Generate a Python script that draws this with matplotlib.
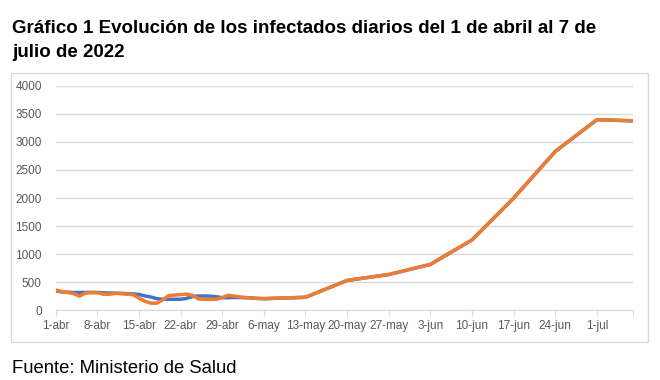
import numpy as np
import matplotlib
matplotlib.use('Agg')
import matplotlib.pyplot as plt
from matplotlib.patches import Rectangle

plt.rcParams['font.family'] = ['Liberation Sans', 'DejaVu Sans']

# days counted from 1-abr (day 0); daily in April, then weekly points
days_daily = list(range(0, 36))
blue_daily = [350, 330, 325, 320, 320, 322, 322, 320, 315, 310, 308, 305,
              300, 295, 285, 260, 240, 210, 200, 200, 200, 200, 215, 250,
              258, 258, 255, 245, 228, 228, 230, 230, 228, 222, 215, 210]
orange_daily = [365, 335, 320, 300, 255, 310, 318, 318, 290, 288, 305, 300,
                292, 282, 220, 165, 130, 130, 190, 265, 275, 282, 292, 270,
                205, 200, 200, 200, 230, 272, 255, 240, 230, 220, 215, 212]
days_weekly = [42, 49, 56, 63, 70, 77, 84, 91, 97]
values_weekly = [235, 535, 640, 820, 1256, 2000, 2830, 3395, 3375]

tick_days = [0, 7, 14, 21, 28, 35, 42, 49, 56, 63, 70, 77, 84, 91, 97]
tick_labels = ['1-abr', '8-abr', '15-abr', '22-abr', '29-abr', '6-may',
               '13-may', '20-may', '27-may', '3-jun', '10-jun', '17-jun',
               '24-jun', '1-jul', '']

x_blue = days_daily + days_weekly
y_blue = blue_daily + values_weekly
x_orange = days_daily + days_weekly
y_orange = orange_daily + values_weekly

fig = plt.figure(figsize=(6.6, 3.8), dpi=100)
fig.patches.append(Rectangle((11 / 660, 1 - 342 / 380), 637 / 660, 269 / 380,
                             transform=fig.transFigure, fill=False,
                             edgecolor='#d9d9d9', linewidth=1))

ax = fig.add_axes([0.0844, 0.1829, 0.8741, 0.5916])
ax.plot(x_blue, y_blue, color='#4472C4', linewidth=2.5, solid_capstyle='round')
ax.plot(x_orange, y_orange, color='#ED7D31', linewidth=2.5, solid_capstyle='round')

ax.set_xlim(0, 97)
ax.set_ylim(0, 4000)
ax.set_yticks(range(0, 4001, 500))
ax.set_xticks(tick_days)
ax.set_xticklabels(tick_labels)
ax.grid(axis='y', color='#d9d9d9', linewidth=1)
ax.set_axisbelow(True)
for s in ['top', 'right', 'left']:
    ax.spines[s].set_visible(False)
ax.spines['bottom'].set_color('#d9d9d9')
ax.tick_params(axis='x', colors='#d9d9d9', length=4, labelcolor='#595959',
               labelsize=8.5, pad=3)
ax.tick_params(axis='y', length=0, labelcolor='#595959', labelsize=8.5, pad=10)

fig.text(12 / 660, 1 - 33 / 380,
         'Gráfico 1 Evolución de los infectados diarios del 1 de abril al 7 de',
         fontsize=13.5, fontweight='bold', ha='left', va='baseline')
fig.text(12 / 660, 1 - 57 / 380, 'julio de 2022',
         fontsize=13.5, fontweight='bold', ha='left', va='baseline')
fig.text(12 / 660, 1 - 373 / 380, 'Fuente: Ministerio de Salud',
         fontsize=13.3, ha='left', va='baseline')

fig.savefig('out.png', dpi=100)
